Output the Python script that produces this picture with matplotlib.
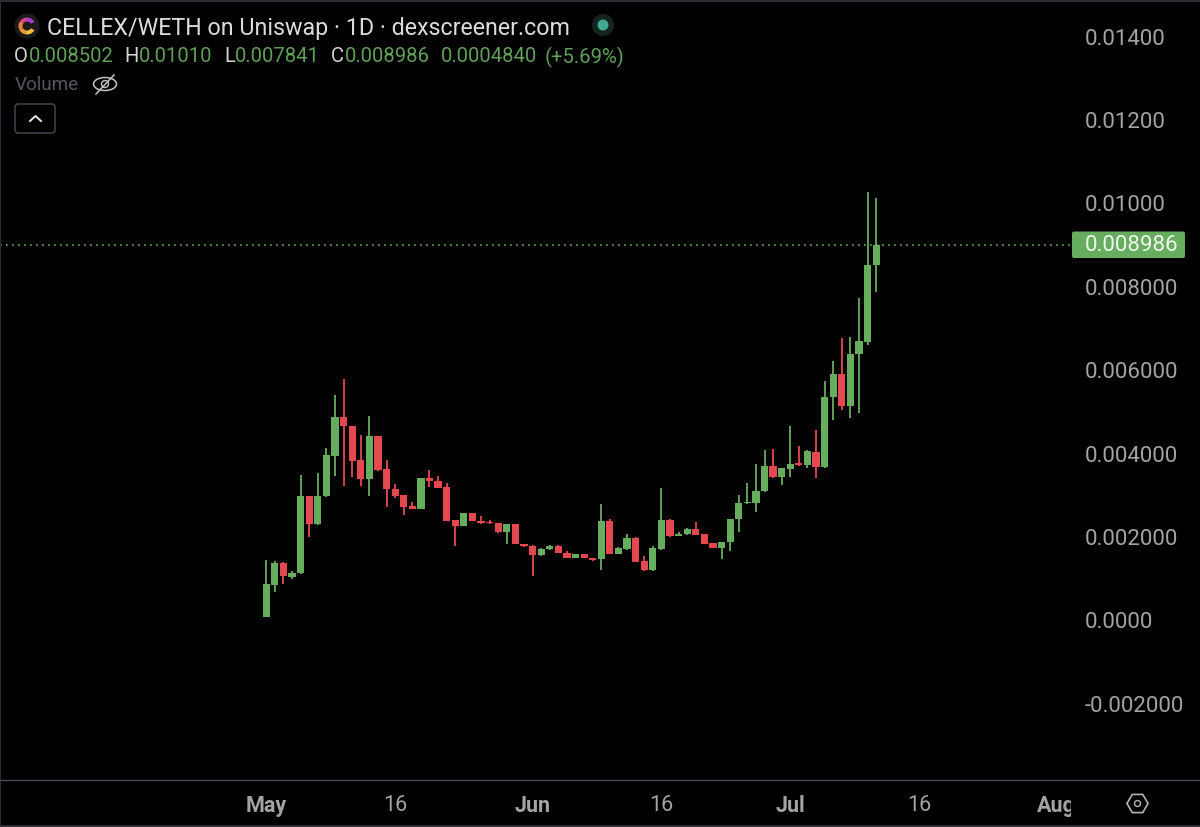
import matplotlib
matplotlib.use("Agg")
import matplotlib.pyplot as plt
from matplotlib.patches import Circle, Ellipse, FancyBboxPatch, RegularPolygon, Rectangle, Wedge

plt.rcParams['font.family'] = ['Roboto', 'DejaVu Sans']

# daily candles, May 1 is index 0 (prices in thousandths)
opens = [0.058, 0.832, 1.360, 1.024, 1.113, 2.959, 2.288, 2.950, 3.926, 4.854, 4.645, 3.813,
         3.357, 4.405, 3.614, 3.127, 2.974, 2.719, 2.655, 3.391, 3.319, 3.165, 2.384, 2.240,
         2.542, 2.367, 2.343, 2.302, 2.086, 2.288, 1.815, 1.767, 1.552, 1.679, 1.767, 1.599,
         1.472, 1.559, 1.472, 1.439, 2.360, 1.575, 1.695, 1.959, 1.391, 1.175, 1.688, 2.374,
         2.000, 2.048, 2.168, 2.038, 1.822, 1.712, 1.846, 2.398, 2.782, 2.791, 3.069, 3.679,
         3.405, 3.614, 3.750, 3.710, 4.021, 3.645, 5.333, 5.875, 5.125, 6.371, 6.660, 8.502]
highs = [1.432, 1.408, 1.365, 1.168, 3.470, 2.965, 3.511, 4.101, 5.388, 5.765, 4.650, 4.429,
         4.885, 4.410, 3.813, 3.247, 2.980, 2.822, 3.400, 3.590, 3.429, 3.271, 2.390, 2.550,
         2.550, 2.487, 2.384, 2.310, 2.290, 2.295, 1.820, 1.775, 1.712, 1.775, 1.775, 1.631,
         1.565, 1.565, 1.480, 2.774, 2.408, 1.725, 2.038, 1.965, 1.528, 1.751, 3.158, 2.408,
         2.103, 2.199, 2.343, 2.045, 1.830, 1.865, 2.415, 2.983, 3.278, 3.726, 4.069, 4.093,
         3.640, 4.638, 4.158, 4.053, 4.549, 5.724, 6.187, 6.748, 6.772, 7.698, 10.24, 10.10]
lows = [0.050, 0.664, 0.849, 0.969, 1.096, 1.966, 2.264, 2.940, 3.429, 3.206, 3.405, 3.206,
        2.950, 3.549, 2.686, 2.902, 2.494, 2.650, 2.650, 3.182, 3.150, 2.350, 1.767, 2.230,
        2.350, 2.300, 2.290, 2.080, 1.799, 1.810, 1.727, 1.048, 1.528, 1.670, 1.585, 1.465,
        1.465, 1.465, 1.391, 1.192, 1.570, 1.570, 1.671, 1.380, 1.151, 1.170, 1.664, 1.966,
        1.990, 2.031, 2.025, 1.810, 1.705, 1.456, 1.631, 2.086, 2.775, 2.566, 3.060, 3.400,
        3.223, 3.415, 3.669, 3.630, 3.391, 3.640, 4.772, 5.029, 4.830, 4.949, 6.587, 7.841]
closes = [0.849, 1.360, 1.041, 1.120, 2.959, 2.295, 2.959, 3.933, 4.854, 4.628, 3.806, 3.357,
          4.405, 3.590, 3.117, 2.959, 2.703, 2.655, 3.391, 3.309, 3.151, 2.350, 2.240, 2.547,
          2.360, 2.312, 2.302, 2.086, 2.288, 1.815, 1.751, 1.552, 1.688, 1.767, 1.592, 1.472,
          1.559, 1.472, 1.424, 2.360, 1.575, 1.719, 1.959, 1.384, 1.175, 1.703, 2.374, 1.990,
          2.055, 2.168, 2.031, 1.815, 1.712, 1.856, 2.408, 2.782, 2.822, 3.079, 3.679, 3.405,
          3.630, 3.734, 3.710, 4.029, 3.645, 5.340, 5.875, 5.108, 6.371, 6.666, 8.502, 8.986]

last_price = 8.986
price_ticks = [-2, 0, 2, 4, 6, 8, 10, 12, 14]
price_labels = ['-0.002000', '0.0000', '0.002000', '0.004000', '0.006000',
                '0.008000', '0.01000', '0.01200', '0.01400']
date_ticks = [0, 15, 31, 46, 61, 76, 92]
date_labels = ['May', '16', 'Jun', '16', 'Jul', '16', 'Aug']

GREEN = '#67ad5e'
RED = '#e5494f'
GREY = '#a3a3a6'

fig = plt.figure(figsize=(12, 8.28), dpi=100, facecolor='black')

# main chart area, 1071 px wide and 781 px high
ax = fig.add_axes([0, 47 / 828, 1071 / 1200, 781 / 828], facecolor='black')
ax.set_xlim(-31, 93.68)
ax.set_ylim(-3.851, 14.878)
for s in ax.spines.values():
    s.set_visible(False)

colors = [GREEN if c >= o else RED for o, c in zip(opens, closes)]
days = list(range(len(opens)))
ax.vlines(days, lows, highs, colors=colors, linewidth=1.3, zorder=2)
ax.bar(days, [c - o for o, c in zip(opens, closes)], bottom=opens, width=0.84,
       color=colors, linewidth=0, zorder=3)
ax.axhline(last_price, color=GREEN, linewidth=1.2, linestyle=(0, (1, 2.6)), zorder=1)

ax.yaxis.tick_right()
ax.set_yticks(price_ticks)
ax.set_yticklabels(price_labels)
ax.tick_params(axis='y', length=0, pad=10, labelsize=16, labelcolor=GREY)
ax.set_xticks([])

# time scale underneath, same x range so labels clip at the price axis like the original
ax_t = fig.add_axes([0, 0, 1071 / 1200, 47 / 828], facecolor='black')
ax_t.set_xlim(-31, 93.68)
ax_t.set_ylim(0, 1)
ax_t.set_yticks([])
for s in ax_t.spines.values():
    s.set_visible(False)
ax_t.set_xticks(date_ticks)
ax_t.set_xticklabels(date_labels)
ax_t.tick_params(axis='x', length=0, pad=-24, labelsize=15.5, labelcolor=GREY)
for lab in ax_t.get_xticklabels():
    lab.set_clip_on(True)
    lab.set_clip_box(ax_t.bbox)
    if lab.get_text() not in ('16',):
        lab.set_fontweight('bold')

# overlay in pixel coordinates for the header and widgets
ov = fig.add_axes([0, 0, 1, 1], facecolor='none')
ov.set_xlim(0, 1200)
ov.set_ylim(828, 0)
ov.axis('off')

ov.add_patch(Rectangle((0, 0), 1200, 2.5, color='#2a2d35', linewidth=0))
ov.add_patch(Rectangle((0, 826), 1200, 2, color='#2a2d35', linewidth=0))
ov.add_patch(Rectangle((0, 0), 1, 828, color='#2a2d35', linewidth=0))
ov.plot([0, 1200], [781, 781], color='#4b4d53', linewidth=1)

# last price tag
ov.add_patch(FancyBboxPatch((1072, 232.5), 113, 26.5, boxstyle='round,pad=0,rounding_size=2',
                            facecolor=GREEN, linewidth=0))
ov.text(1085, 246, '0.008986', color='#f0f5ee', fontsize=16, va='center', ha='left')

# logo, a C open to the right (y axis is flipped here)
ov.add_patch(Circle((27, 27), 12.5, color='#1d1a1a', linewidth=0))
for start, end, col in [(30, 100, '#f3c13a'), (100, 150, '#ef9a3a'), (150, 215, '#ef7f3a'),
                        (215, 270, '#d9428f'), (270, 330, '#a63fd0')]:
    ov.add_patch(Wedge((27, 27), 8.5, start, end, width=4, color=col, linewidth=0))

ov.text(47, 28, 'CELLEX/WETH on Uniswap · 1D · dexscreener.com', color='#dcdcdc',
        fontsize=16.75, va='center', ha='left')
ov.add_patch(Circle((603, 26), 11, color='#14241f', linewidth=0))
ov.add_patch(Circle((603, 26), 5.5, color='#41a893', linewidth=0))

# OHLC row
for x, s, col in [(14, 'O', '#d4d4d4'), (29, '0.008502', '#5f9f57'),
                  (124, 'H', '#d4d4d4'), (139, '0.01010', '#5f9f57'),
                  (224, 'L', '#d4d4d4'), (235, '0.007841', '#5f9f57'),
                  (331, 'C', '#d4d4d4'), (345, '0.008986', '#5f9f57'),
                  (441, '0.0004840', '#5f9f57'), (545, '(+5.69%)', '#5f9f57')]:
    ov.text(x, 57, s, color=col, fontsize=14.6, va='center', ha='left')

ov.text(15, 85.5, 'Volume', color='#55575d', fontsize=13.6, va='center', ha='left')

# crossed out eye
ov.add_patch(Ellipse((105, 85), 23, 13, fill=False, edgecolor='#c4c4c4', linewidth=1.1))
ov.add_patch(Circle((105, 85), 3.5, fill=False, edgecolor='#c4c4c4', linewidth=1))
ov.plot([96, 114], [95, 76], color='#c4c4c4', linewidth=1.1)

# collapse button
ov.add_patch(FancyBboxPatch((15, 105), 40, 29, boxstyle='round,pad=0,rounding_size=3',
                            fill=False, edgecolor='#44464c', linewidth=1.1))
ov.plot([30, 35.5, 41], [122, 117, 122], color='#e6e6e6', linewidth=1.4)

# settings hexagon
ov.add_patch(RegularPolygon((1137.5, 804.5), 6, radius=10.5, orientation=0.5236,
                            fill=False, edgecolor='#b4b4b4', linewidth=1.2))
ov.add_patch(Circle((1137.5, 804.5), 3, fill=False, edgecolor='#b4b4b4', linewidth=1))

fig.savefig('out.png', dpi=100, facecolor='black')
